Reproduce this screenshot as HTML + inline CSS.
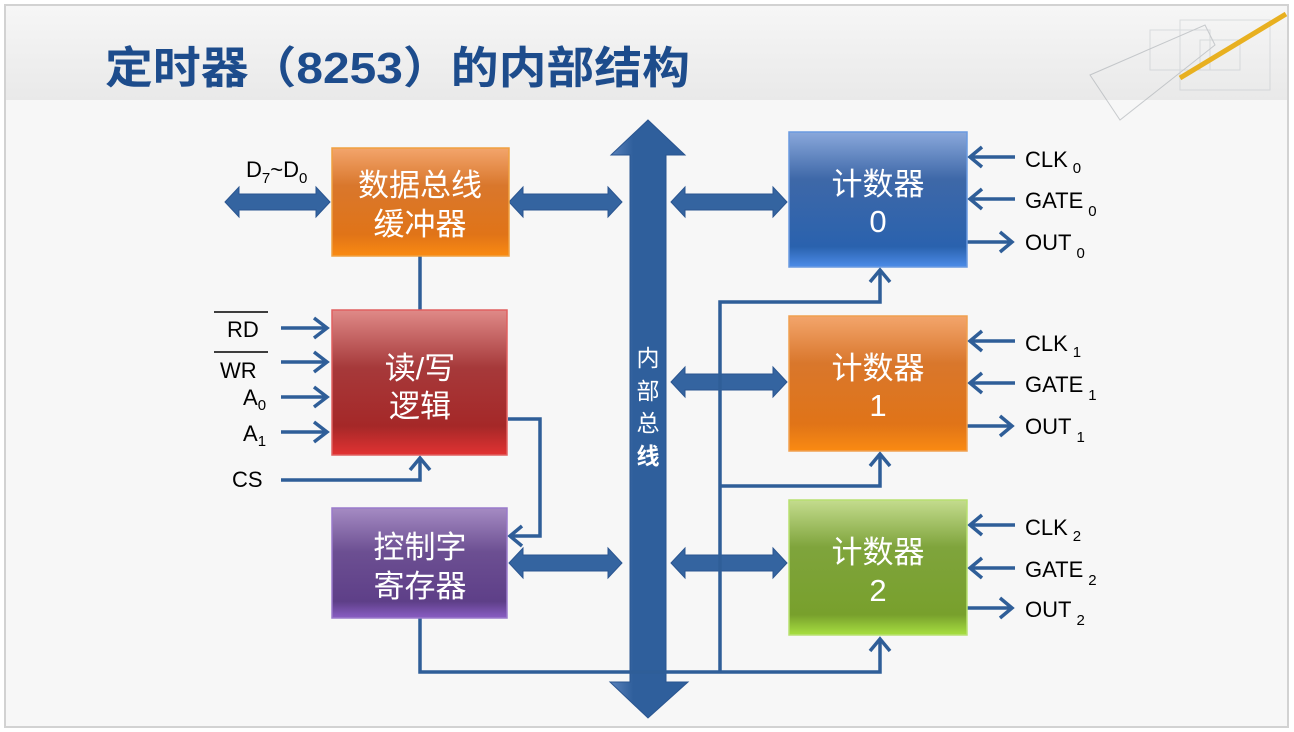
<!DOCTYPE html>
<html><head><meta charset="utf-8"><style>
body{margin:0;background:#fff;}
svg{display:block;}
text{font-family:"Liberation Sans","Noto Sans CJK SC",sans-serif;}
</style></head><body>
<svg width="1294" height="732" viewBox="0 0 1294 732" xmlns="http://www.w3.org/2000/svg">
<defs>
<linearGradient id="tb" x1="0" y1="0" x2="0" y2="1"><stop offset="0" stop-color="#f6f6f6"/><stop offset="1" stop-color="#e9e9e9"/></linearGradient>
<linearGradient id="or" x1="0" y1="0" x2="0" y2="1"><stop offset="0" stop-color="#f3a56c"/><stop offset="0.35" stop-color="#d9772c"/><stop offset="0.8" stop-color="#e07418"/><stop offset="1" stop-color="#fa8a12"/></linearGradient>
<linearGradient id="rd" x1="0" y1="0" x2="0" y2="1"><stop offset="0" stop-color="#e08a88"/><stop offset="0.4" stop-color="#a6393a"/><stop offset="0.8" stop-color="#a52828"/><stop offset="1" stop-color="#e23232"/></linearGradient>
<linearGradient id="pu" x1="0" y1="0" x2="0" y2="1"><stop offset="0" stop-color="#a58bc3"/><stop offset="0.4" stop-color="#6c4f92"/><stop offset="0.85" stop-color="#5e3f88"/><stop offset="1" stop-color="#8a5ec4"/></linearGradient>
<linearGradient id="bl" x1="0" y1="0" x2="0" y2="1"><stop offset="0" stop-color="#8aa8db"/><stop offset="0.35" stop-color="#3e68a8"/><stop offset="0.85" stop-color="#2a62ae"/><stop offset="1" stop-color="#4c8ce8"/></linearGradient>
<linearGradient id="gr" x1="0" y1="0" x2="0" y2="1"><stop offset="0" stop-color="#c4dc8e"/><stop offset="0.35" stop-color="#7fa43c"/><stop offset="0.85" stop-color="#78a02c"/><stop offset="1" stop-color="#a8e040"/></linearGradient>
<linearGradient id="bus" x1="0" y1="0" x2="1" y2="0"><stop offset="0" stop-color="#5a82bb"/><stop offset="0.3" stop-color="#2f5f9c"/><stop offset="1" stop-color="#2f5f9c"/></linearGradient>
</defs>
<rect width="1294" height="732" fill="#fff"/>
<rect x="5" y="5" width="1283" height="722" fill="#f7f7f7" stroke="#d2d2d2" stroke-width="2"/>
<rect x="6" y="6" width="1281" height="94" fill="url(#tb)"/>
<!-- decoration -->
<g opacity="0.5" stroke="#bfc4c8" fill="none" stroke-width="1">
<rect x="1180" y="20" width="90" height="70"/><rect x="1200" y="40" width="40" height="30"/>
<rect x="1150" y="30" width="60" height="40"/>
<path d="M1090 75 L1205 25 L1215 45 L1120 120 Z" stroke="#9aa0a6"/>
</g>
<line x1="1180" y1="78" x2="1286" y2="14" stroke="#e8b020" stroke-width="5"/>
<text x="105" y="83" font-size="44" font-weight="bold" fill="#1d4c8c" textLength="585" lengthAdjust="spacingAndGlyphs">定时器（8253）的内部结构</text>

<!-- bus -->
<path d="M648 120 L685 155 L666 155 L666 682 L688 682 L648 718 L610 682 L630 682 L630 155 L611 155 Z" fill="url(#bus)" stroke="#2a5590" stroke-width="1"/>
<g fill="#fff" font-size="23" text-anchor="middle"><text x="648" y="366">内</text><text x="648" y="399">部</text><text x="648" y="431">总</text><text x="648" y="464" font-weight="bold">线</text></g>

<!-- fat double arrows -->
<g fill="#3464a0" stroke="#2a5590" stroke-width="1">
<path d="M225 202 L239 187 L239 194 L316 194 L316 187 L330 202 L316 217 L316 210 L239 210 L239 217 Z"/>
<path d="M509 202 L523 187 L523 194 L608 194 L608 187 L622 202 L608 217 L608 210 L523 210 L523 217 Z"/>
<path d="M671 202 L685 187 L685 194 L773 194 L773 187 L787 202 L773 217 L773 210 L685 210 L685 217 Z"/>
<path d="M671 382 L685 367 L685 374 L773 374 L773 367 L787 382 L773 397 L773 390 L685 390 L685 397 Z"/>
<path d="M509 563 L523 548 L523 555 L608 555 L608 548 L622 563 L608 578 L608 571 L523 571 L523 578 Z"/>
<path d="M671 563 L685 548 L685 555 L773 555 L773 548 L787 563 L773 578 L773 571 L685 571 L685 578 Z"/>
</g>

<!-- thin lines -->
<g stroke="#2f5e98" stroke-width="3.5" fill="none">
<line x1="420" y1="256" x2="420" y2="310"/>
<line x1="281" y1="328" x2="326" y2="328"/><path d="M314 318 L327 328 L314 338"/>
<line x1="281" y1="362" x2="326" y2="362"/><path d="M314 352 L327 362 L314 372"/>
<line x1="281" y1="397" x2="326" y2="397"/><path d="M314 387 L327 397 L314 407"/>
<line x1="281" y1="432" x2="326" y2="432"/><path d="M314 422 L327 432 L314 442"/>
<path d="M281 480 L420 480 L420 459"/><path d="M410 470 L420 458 L430 470"/>
<path d="M508 419 L540 419 L540 536 L511 536"/><path d="M522 526 L510 536 L522 546"/>
<path d="M420 618 L420 672 L880 672 L880 640"/><path d="M870 651 L880 639 L890 651"/>
<path d="M720 672 L720 302 L880 302 L880 271"/><path d="M870 282 L880 270 L890 282"/>
<path d="M720 486 L880 486 L880 455"/><path d="M870 466 L880 454 L890 466"/>
<g>
<line x1="970" y1="157" x2="1015" y2="157"/><path d="M982 147 L970 157 L982 167"/>
<line x1="970" y1="199" x2="1015" y2="199"/><path d="M982 189 L970 199 L982 209"/>
<line x1="967" y1="242" x2="1012" y2="242"/><path d="M1000 232 L1012 242 L1000 252"/>
<line x1="970" y1="341" x2="1015" y2="341"/><path d="M982 331 L970 341 L982 351"/>
<line x1="970" y1="383" x2="1015" y2="383"/><path d="M982 373 L970 383 L982 393"/>
<line x1="967" y1="426" x2="1012" y2="426"/><path d="M1000 416 L1012 426 L1000 436"/>
<line x1="970" y1="525" x2="1015" y2="525"/><path d="M982 515 L970 525 L982 535"/>
<line x1="970" y1="568" x2="1015" y2="568"/><path d="M982 558 L970 568 L982 578"/>
<line x1="967" y1="608" x2="1012" y2="608"/><path d="M1000 598 L1012 608 L1000 618"/>
</g>
</g>

<!-- boxes -->
<rect x="332" y="148" width="177" height="108" fill="url(#or)" stroke="#f0a040" stroke-width="1.5"/>
<rect x="332" y="310" width="175" height="145" fill="url(#rd)" stroke="#e06060" stroke-width="1.5"/>
<rect x="332" y="508" width="175" height="110" fill="url(#pu)" stroke="#9a7acb" stroke-width="1.5"/>
<rect x="789" y="132" width="178" height="135" fill="url(#bl)" stroke="#6a9ae0" stroke-width="1.5"/>
<rect x="789" y="316" width="178" height="135" fill="url(#or)" stroke="#f0a050" stroke-width="1.5"/>
<rect x="789" y="500" width="178" height="135" fill="url(#gr)" stroke="#b8e070" stroke-width="1.5"/>

<g fill="#fff" font-size="31" text-anchor="middle">
<text x="420" y="196">数据总线</text><text x="420" y="235">缓冲器</text>
<text x="420" y="379">读/写</text><text x="420" y="417">逻辑</text>
<text x="420" y="558">控制字</text><text x="420" y="597">寄存器</text>
<text x="878" y="195">计数器</text><text x="878" y="232">0</text>
<text x="878" y="379">计数器</text><text x="878" y="416">1</text>
<text x="878" y="563">计数器</text><text x="878" y="601">2</text>
</g>

<g fill="#000" font-size="22">
<text x="246" y="177">D<tspan font-size="15" dy="6">7</tspan><tspan dy="-6">~D</tspan><tspan font-size="15" dy="6">0</tspan></text>
<text x="227" y="337">RD</text><line x1="214" y1="312" x2="268" y2="312" stroke="#000" stroke-width="1.5"/>
<text x="220" y="378">WR</text><line x1="214" y1="352" x2="268" y2="352" stroke="#000" stroke-width="1.5"/>
<text x="243" y="405">A<tspan font-size="15" dy="5">0</tspan></text>
<text x="243" y="441">A<tspan font-size="15" dy="5">1</tspan></text>
<text x="232" y="487">CS</text>
<text x="1025" y="167">CLK<tspan font-size="15" dx="5" dy="6">0</tspan></text>
<text x="1025" y="208">GATE<tspan font-size="15" dx="5" dy="8">0</tspan></text>
<text x="1025" y="250">OUT<tspan font-size="15" dx="5" dy="8">0</tspan></text>
<text x="1025" y="351">CLK<tspan font-size="15" dx="5" dy="6">1</tspan></text>
<text x="1025" y="392">GATE<tspan font-size="15" dx="5" dy="8">1</tspan></text>
<text x="1025" y="434">OUT<tspan font-size="15" dx="5" dy="8">1</tspan></text>
<text x="1025" y="535">CLK<tspan font-size="15" dx="5" dy="6">2</tspan></text>
<text x="1025" y="577">GATE<tspan font-size="15" dx="5" dy="8">2</tspan></text>
<text x="1025" y="617">OUT<tspan font-size="15" dx="5" dy="8">2</tspan></text>
</g>
</svg>
</body></html>
